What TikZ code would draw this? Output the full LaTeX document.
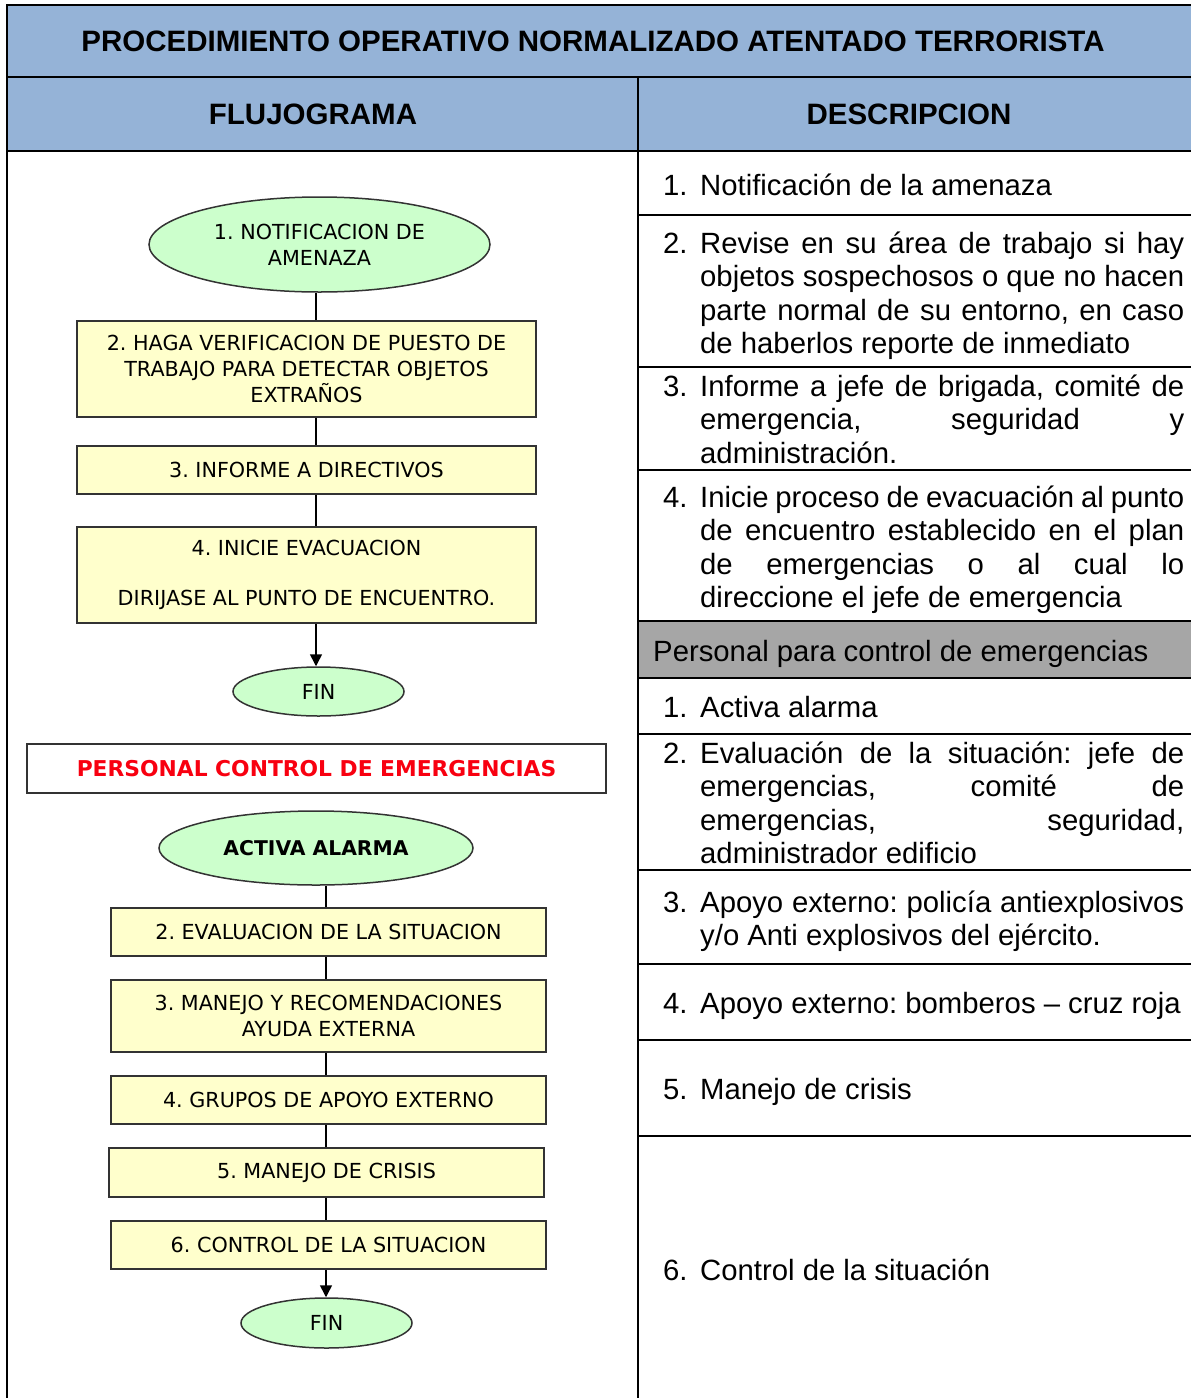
\documentclass[tikz,border=0pt]{standalone}
\usepackage{fontspec}
\setmainfont{Liberation Sans}
\newfontfamily\flowfont{DejaVu Sans}
\usetikzlibrary{shapes.geometric,arrows.meta}
\definecolor{hdrblue}{HTML}{95B3D7}
\definecolor{rowgrey}{HTML}{A6A6A6}
\definecolor{flowgreen}{HTML}{CCFFCC}
\definecolor{flowyellow}{HTML}{FFFFCC}
\definecolor{flowline}{HTML}{333333}
\definecolor{flowred}{HTML}{F80010}
\frenchspacing
\newcommand{\descfont}{\fontsize{29.3}{33.5}\selectfont\frenchspacing\tolerance=10000\hbadness=10000}
\newcommand{\flowtext}{\flowfont\fontsize{20.7}{26}\selectfont\frenchspacing}
\begin{document}
\begin{tikzpicture}[x=1pt,y=-1pt,
  tab/.style={line width=2.2pt, black},
  hdr/.style={inner sep=0pt, font=\bfseries\fontsize{29.5}{34}\selectfont},
  desc/.style={anchor=north west, inner sep=0pt, text width=484pt, align=justify, font=\descfont},
  num/.style={anchor=base west, inner sep=0pt, font=\descfont},
  line1/.style={anchor=base west, inner sep=0pt, font=\descfont},
  term/.style={ellipse, draw=flowline, line width=1.5pt, fill=flowgreen, inner sep=0pt, align=center, font=\flowtext},
  stepbox/.style={rectangle, draw=flowline, line width=1.5pt, fill=flowyellow, inner sep=0pt, align=center, font=\flowtext},
  conn/.style={line width=1.5pt, black},
  arr/.style={conn, -{Triangle[length=12pt,width=12pt]}}
]
\useasboundingbox (0,0) rectangle (1191,1398);

% table background
\fill[hdrblue] (7,5) rectangle (1191,151);
\fill[rowgrey] (638,621) rectangle (1191,678);
% table lines
\draw[tab] (7,1398) -- (7,5) -- (1191,5);
\draw[tab] (7,77) -- (1191,77);
\draw[tab] (7,151) -- (1191,151);
\draw[tab] (638,77) -- (638,1398);
\foreach \yy in {215,367,470,621,678,734,870,964,1040,1136}
  \draw[tab] (638,\yy) -- (1191,\yy);

% headers
\node[hdr] (title) at (593,41) {PROCEDIMIENTO OPERATIVO NORMALIZADO ATENTADO TERRORISTA};
\node[hdr] (hflow) at (313,114) {FLUJOGRAMA};
\node[hdr] (hdesc) at (909,114) {DESCRIPCION};

% flowchart, upper part
\coordinate (ucol) at (316,0);
\node[term, minimum width=341pt, minimum height=95pt] (e1) at (319.5,244.5) {1. NOTIFICACION DE\\AMENAZA};
\node[stepbox, minimum width=459pt, minimum height=96pt] (b2) at (306.5,369) {2. HAGA VERIFICACION DE PUESTO DE\\TRABAJO PARA DETECTAR OBJETOS\\EXTRAÑOS};
\node[stepbox, minimum width=459pt, minimum height=48pt] (b3) at (306.5,470) {3. INFORME A DIRECTIVOS};
\node[stepbox, minimum width=459pt, minimum height=96pt] (b4) at (306.5,575) {4. INICIE EVACUACION\\[24pt]DIRIJASE AL PUNTO DE ENCUENTRO.};
\node[term, minimum width=171pt, minimum height=49pt] (fin1) at (318.5,691.5) {FIN};

\draw[conn] (ucol |- e1.south) -- (ucol |- b2.north);
\draw[conn] (ucol |- b2.south) -- (ucol |- b3.north);
\draw[conn] (ucol |- b3.south) -- (ucol |- b4.north);
\draw[arr] (ucol |- b4.south) -- (ucol |- fin1.north);

% flowchart, lower part
\node[rectangle, draw=flowline, line width=1.5pt, fill=white, inner sep=0pt,
      minimum width=579pt, minimum height=49pt, text=flowred,
      font=\flowfont\bfseries\fontsize{21.8}{26}\selectfont] (pce) at (316.5,768.5) {PERSONAL CONTROL DE EMERGENCIAS};
\coordinate (lcol) at (326,0);
\node[term, minimum width=314pt, minimum height=74pt, font=\flowfont\bfseries\fontsize{20.3}{26}\selectfont] (e2) at (316,848) {ACTIVA ALARMA};
\node[stepbox, minimum width=435pt, minimum height=48pt] (l2) at (328.5,932) {2. EVALUACION DE LA SITUACION};
\node[stepbox, minimum width=435pt, minimum height=72pt] (l3) at (328.5,1016) {3. MANEJO Y RECOMENDACIONES\\AYUDA EXTERNA};
\node[stepbox, minimum width=435pt, minimum height=48pt] (l4) at (328.5,1100) {4. GRUPOS DE APOYO EXTERNO};
\node[stepbox, minimum width=435pt, minimum height=49pt] (l5) at (326.5,1172.5) {5. MANEJO DE CRISIS};
\node[stepbox, minimum width=435pt, minimum height=48pt] (l6) at (328.5,1245) {6. CONTROL DE LA SITUACION};
\node[term, minimum width=171pt, minimum height=50pt] (fin2) at (326.5,1323) {FIN};

\draw[conn] (lcol |- e2.south) -- (lcol |- l2.north);
\draw[conn] (lcol |- l2.south) -- (lcol |- l3.north);
\draw[conn] (lcol |- l3.south) -- (lcol |- l4.north);
\draw[conn] (lcol |- l4.south) -- (lcol |- l5.north);
\draw[conn] (lcol |- l5.south) -- (lcol |- l6.north);
\draw[arr] (lcol |- l6.south) -- (lcol |- fin2.north);

% description column
\node[num] (n1) at (663,195) {1.};
\node[line1] (t1) at (700,195) {Notificación de la amenaza};

\node[num] (n2) at (663,253) {2.};
\node[desc] (t2) at (700,229.55) {\strut Revise en su área de trabajo si hay\linebreak objetos sospechosos o que no hacen\linebreak parte normal de su entorno, en caso\linebreak de haberlos reporte de inmediato};

\node[num] (n3) at (663,396) {3.};
\node[desc] (t3) at (700,372.55) {\strut Informe a jefe de brigada, comité de\linebreak emergencia, seguridad y\linebreak administración.};

\node[num] (n4) at (663,507) {4.};
\node[desc] (t4) at (700,483.55) {\strut Inicie proceso de evacuación al punto\linebreak de encuentro establecido en el plan\linebreak de emergencias o al cual lo\linebreak direccione el jefe de emergencia};

\node[line1] (pgrey) at (653,661) {Personal para control de emergencias};

\node[num] (m1) at (663,717) {1.};
\node[line1] (s1) at (700,717) {Activa alarma};

\node[num] (m2) at (663,763) {2.};
\node[desc] (s2) at (700,739.55) {\strut Evaluación de la situación: jefe de\linebreak emergencias, comité de\linebreak emergencias, seguridad,\linebreak administrador edificio};

\node[num] (m3) at (663,912) {3.};
\node[desc] (s3) at (700,888.55) {\strut Apoyo externo: policía antiexplosivos\linebreak y/o Anti explosivos del ejército.};

\node[num] (m4) at (663,1013) {4.};
\node[line1] (s4) at (700,1013) {Apoyo externo: bomberos – cruz roja};

\node[num] (m5) at (663,1099) {5.};
\node[line1] (s5) at (700,1099) {Manejo de crisis};

\node[num] (m6) at (663,1280) {6.};
\node[line1] (s6) at (700,1280) {Control de la situación};
\end{tikzpicture}
\end{document}
